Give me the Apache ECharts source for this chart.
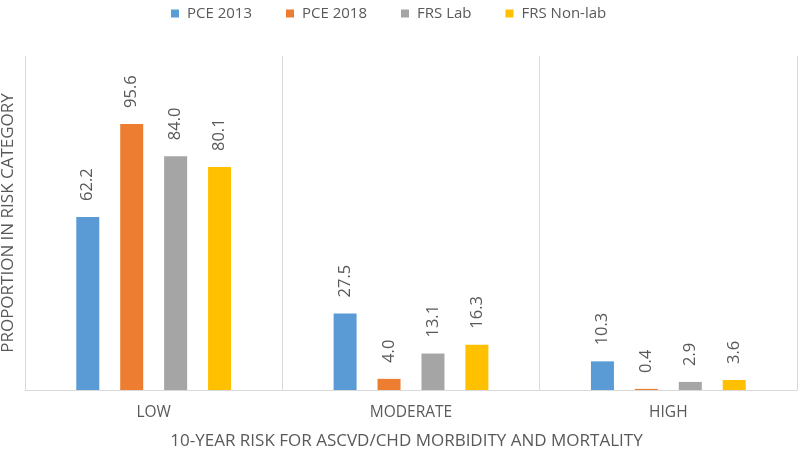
<!DOCTYPE html>
<html><head><meta charset="utf-8">
<script src="https://cdn.jsdelivr.net/npm/echarts@6/dist/echarts.min.js"></script>
<style>html,body{margin:0;padding:0;background:#fff}#c{width:799px;height:453px}</style>
</head><body><div id="c"></div>
<script>
const categories = ['LOW', 'MODERATE', 'HIGH'];
const seriesNames = ['PCE 2013', 'PCE 2018', 'FRS Lab', 'FRS Non-lab'];
const pce2013 = [62.2, 27.5, 10.3];
const pce2018 = [95.6, 4.0, 0.4];
const frsLab = [84.0, 13.1, 2.9];
const frsNonLab = [80.1, 16.3, 3.6];
const xAxisTitle = '10-YEAR RISK FOR ASCVD/CHD MORBIDITY AND MORTALITY';
const yAxisTitle = 'PROPORTION IN RISK CATEGORY';
const colors = ['#5b9bd5', '#ed7d31', '#a5a5a5', '#ffc000'];
const FONT = "'Open Sans', 'Noto Sans', sans-serif";
const TXT = '#595959';
const values = [pce2013, pce2018, frsLab, frsNonLab];

const chart = echarts.init(document.getElementById('c'));
chart.setOption({
  animation: false,
  color: colors,
  legend: {
    top: 1, left: 166,
    itemWidth: 8, itemHeight: 8, itemGap: 34,
    icon: 'rect',
    textStyle: { fontFamily: FONT, fontSize: 15, color: TXT, padding: [0, 0, 0, 3] },
    data: seriesNames
  },
  grid: { left: 25, right: 2, top: 56, bottom: 63, outerBoundsMode: 'none', containLabel: false },
  xAxis: {
    type: 'category', data: categories,
    axisLine: { lineStyle: { color: '#d9d9d9' } },
    axisTick: { show: false },
    axisLabel: { fontFamily: FONT, fontSize: 15.5, color: TXT, margin: 15 },
    splitLine: { show: true, lineStyle: { color: '#d9d9d9' } }
  },
  yAxis: {
    type: 'value', min: 0, max: 120,
    name: yAxisTitle, nameLocation: 'middle', nameGap: 8,
    nameTextStyle: { fontFamily: FONT, fontSize: 17, color: TXT },
    axisLine: { show: false }, axisTick: { show: false },
    axisLabel: { show: false }, splitLine: { show: false }
  },
  graphic: [{
    type: 'text', x: 406.5, y: 441.5,
    style: { text: xAxisTitle, font: "17px " + FONT, fill: TXT, align: 'center', verticalAlign: 'middle' }
  }],
  series: seriesNames.map((n, i) => ({
    name: n, type: 'bar', data: values[i],
    barWidth: 23, barGap: '91%',
    label: {
      show: true, position: 'top', rotate: 90, distance: 16,
      align: 'left', verticalAlign: 'middle',
      formatter: p => p.value.toFixed(1),
      fontFamily: FONT, fontSize: 16.5, color: TXT
    }
  }))
});
</script></body></html>
